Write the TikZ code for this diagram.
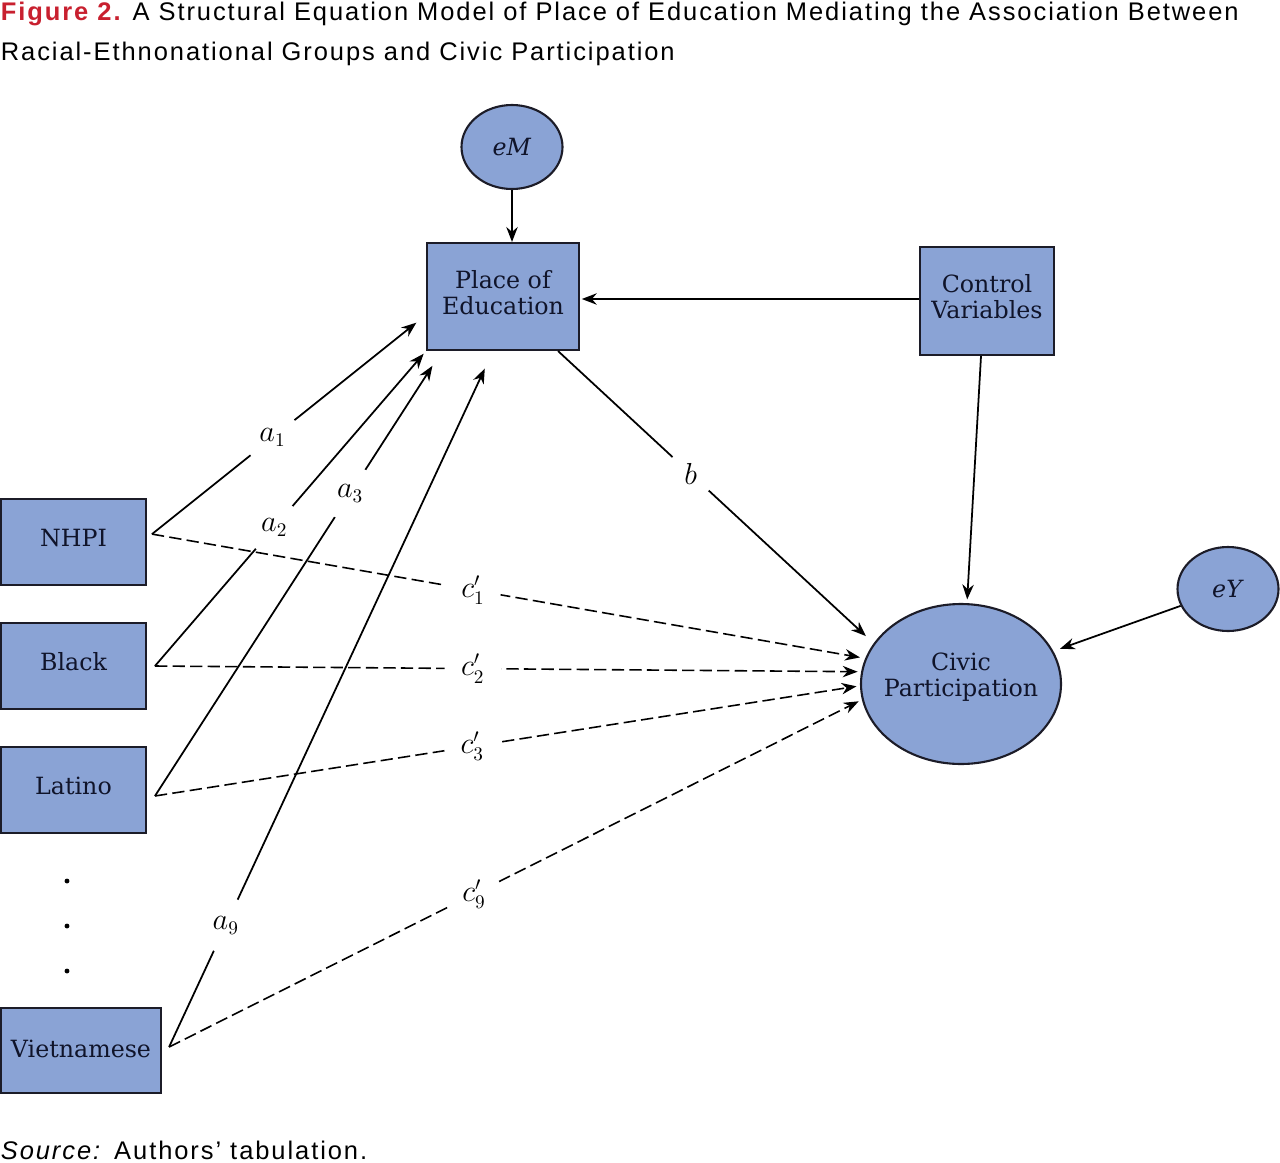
\documentclass[tikz,border=0pt]{standalone}
\usepackage{fontspec}
\setmainfont{DejaVu Serif}
\newfontfamily\capfont[LetterSpace=7.6]{Liberation Sans}
\usepackage{tikz}
\usetikzlibrary{calc, positioning, arrows.meta, shapes.geometric}
\newcommand{\pu}{0.02cm}
\definecolor{boxblue}{HTML}{8AA3D5}
\definecolor{figred}{HTML}{C8202F}
\definecolor{edgeline}{HTML}{1C1C28}
\definecolor{labeltext}{HTML}{10142A}

\begin{document}
\begin{tikzpicture}[x=0.02cm,y=-0.02cm,line width=1pt,node distance=124*\pu,
                    >={Stealth[length=8.5pt,width=6.5pt]},
                    var node/.style={rectangle,draw=edgeline,line width=1.2pt,fill=boxblue,align=center,
                                     text=labeltext,text depth=0.5em,font=\fontsize{13.5}{14.7}\selectfont},
                    err node/.style={ellipse,draw=edgeline,line width=1.2pt,fill=boxblue,align=center,
                                     text=labeltext,inner sep=0pt,font=\fontsize{13.5}{14.7}\selectfont},
                    group node/.style={var node,minimum width=145*\pu,minimum height=86*\pu},
                    lbl/.style={circle,fill=white,inner sep=0pt,minimum size=32pt,font=\fontsize{16}{16}\selectfont},
                    direct/.style={->,dash pattern=on 7pt off 3pt,line width=0.9pt}]

  \useasboundingbox (0,0) rectangle (1280,1162);

  % caption
  \node[anchor=base west,inner sep=0pt,font=\capfont\fontsize{14.5}{17}\selectfont] (title1) at (0,21)
    {\textcolor{figred}{\bfseries Figure 2.} A Structural Equation Model of Place of Education Mediating the Association Between};
  \node[anchor=base west,inner sep=0pt,font=\capfont\fontsize{14.5}{17}\selectfont] (title2) at (0,61)
    {Racial-Ethnonational Groups and Civic Participation};

  % groups
  \node[group node] (nhpi) at (73.5,542) {NHPI};
  \node[group node] (black) [below of=nhpi] {Black};
  \node[group node] (latino) [below of=black] {Latino};
  \node[var node,minimum width=160*\pu,minimum height=85*\pu,text depth=0.25em] (viet) at (81,1050.5) {Vietnamese};
  \foreach \y in {881,926,971}
    \fill (67,\y) circle (1.4pt);

  \node[var node,minimum width=152*\pu,minimum height=107*\pu] (poe) at (503,296.5) {Place of\\Education};
  \node[err node,minimum width=101*\pu,minimum height=84*\pu] (em) at (512,147) {\textit{eM}};
  \node[var node,minimum width=134*\pu,minimum height=108*\pu] (control) at (987,301) {Control\\Variables};
  \node[err node,minimum width=200*\pu,minimum height=160*\pu,inner xsep=-5pt,text depth=1.1em] (civic) at (961,684) {Civic\\Participation};
  \node[err node,minimum width=101*\pu,minimum height=84*\pu] (ey) at (1228,589) {\textit{eY}};

  % start points
  \coordinate (o1) at ([xshift=2.8pt,yshift=4.5pt]nhpi.east);
  \coordinate (o2) at ([xshift=4.5pt]black.east);
  \coordinate (o3) at ([xshift=4.5pt,yshift=-3.4pt]latino.east);
  \coordinate (o4) at ([xshift=4pt,yshift=2pt]viet.east);

  % paths a
  \draw[->,shorten >=7pt] (o1) -- node[lbl,pos=0.44] {$a_1$} ($(poe.west)+(0,18.5)$);
  \draw[->,shorten >=2pt] (o2) -- node[lbl,pos=0.44] {$a_2$} (poe.south west);
  \draw[->,shorten >=10pt] (o3) -- node[lbl,pos=0.68] {$a_3$} ($(poe.south west)+(16,0)$);
  \draw[->,shorten >=11pt] (o4) -- node[lbl,pos=0.175] {$a_9$} ($(poe.south west)+(67,0)$);

  % direct paths
  \draw[direct,shorten >=3pt] (o1) -- node[lbl,pos=0.45] {$c'_1$} (civic.165);
  \draw[direct,shorten >=2pt] (o2) -- node[lbl,pos=0.45] {$c'_2$} (civic.173);
  \draw[direct,shorten >=2pt] (o3) -- node[lbl,pos=0.45] {$c'_3$} (civic.181);
  \draw[direct,shorten >=2pt] (o4) -- node[lbl,pos=0.44] {$c'_9$} (civic.189);

  % mediator, controls, errors
  \draw[->,shorten >=6pt] ($(poe.south east)+(-22,0)$) -- node[lbl,pos=0.42,minimum size=28pt] {$b$} (civic.155);
  \draw[->,shorten >=1pt] ($(control.west)+(0,-2)$) -- ($(poe.east)+(0,2.5)$);
  \draw[->,shorten >=2pt] ($(control.south)+(-6,0)$) -- ($(civic.north)+(6,0)$);
  \draw[->] (em.south) -- (em.south |- poe.north);
  \draw[->,shorten >=4pt] (ey) -- (civic);

  \node[anchor=base west,inner sep=0pt,font=\capfont\fontsize{14.5}{17}\selectfont] (source) at (0,1159)
    {\textit{Source:} Authors’ tabulation.};
\end{tikzpicture}
\end{document}
